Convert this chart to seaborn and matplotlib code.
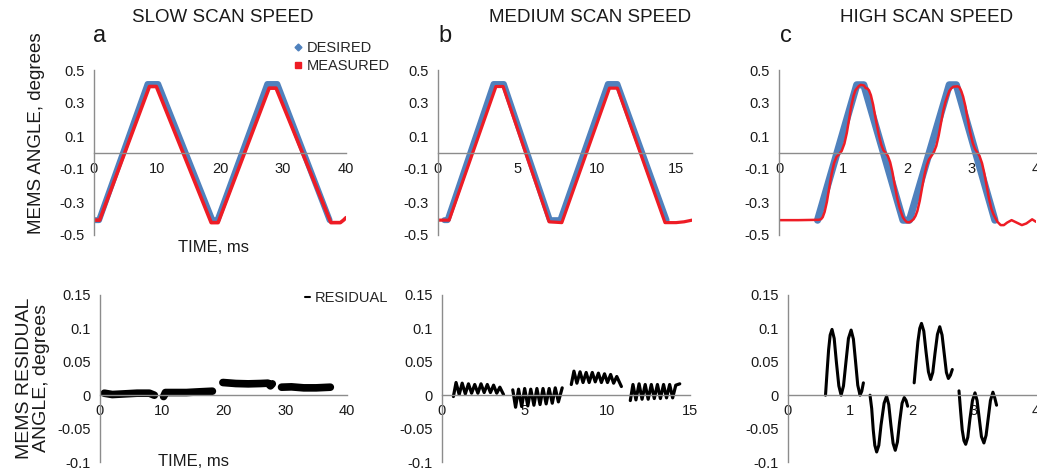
import matplotlib
matplotlib.use("Agg")
import matplotlib.pyplot as plt
from matplotlib.lines import Line2D
import seaborn as sns

# ---------------- data ----------------
# Panel a (slow)
des_a_t = [0, 0.8, 8.5, 10.2, 18.8, 19.6, 27.5, 29.1, 37.4]
des_a_y = [-0.41, -0.41, 0.415, 0.415, -0.41, -0.41, 0.415, 0.415, -0.41]
mea_a_t = [0, 0.9, 8.8, 9.9, 18.6, 19.7, 27.8, 28.9, 37.6, 39.1, 39.6, 40]
mea_a_y = [-0.41, -0.41, 0.40, 0.40, -0.425, -0.425, 0.39, 0.39, -0.425, -0.425, -0.41, -0.395]

# Panel b (medium)
des_b_t = [0.4, 0.6, 3.5, 4.15, 7.05, 7.7, 10.7, 11.3, 14.4]
des_b_y = [-0.41, -0.41, 0.415, 0.415, -0.41, -0.41, 0.415, 0.415, -0.41]
mea_b_t = [0, 0.7, 3.65, 4.1, 7.0, 7.8, 10.8, 11.3, 14.3, 15.0, 15.5, 16]
mea_b_y = [-0.41, -0.41, 0.40, 0.40, -0.42, -0.425, 0.39, 0.39, -0.425, -0.425, -0.42, -0.41]

# Panel c (high)
des_c_t = [0.6, 1.21, 1.32, 1.93, 2.03, 2.65, 2.76, 3.36]
des_c_y = [-0.41, 0.41, 0.41, -0.41, -0.41, 0.41, 0.41, -0.41]
mea_c_t = [0, 0.3, 0.605, 0.63, 0.655, 0.68, 0.71, 0.745, 0.78, 0.82, 0.857, 0.895,
           0.935, 0.975, 1.018, 1.055, 1.09, 1.125, 1.162, 1.19, 1.216, 1.24, 1.27,
           1.30, 1.323, 1.35, 1.375, 1.40, 1.43, 1.465, 1.50, 1.55, 1.59, 1.625, 1.66,
           1.695, 1.73, 1.765, 1.80, 1.84, 1.875, 1.905, 1.93, 1.96, 1.99, 2.02, 2.035,
           2.065, 2.095, 2.125, 2.153, 2.19, 2.225, 2.265, 2.30, 2.335, 2.37, 2.41,
           2.448, 2.485, 2.52, 2.555, 2.587, 2.62, 2.65, 2.68, 2.71, 2.74, 2.758,
           2.785, 2.81, 2.838, 2.866, 2.90, 2.935, 2.975, 3.016, 3.05, 3.085, 3.12,
           3.16, 3.195, 3.23, 3.265, 3.305, 3.335, 3.364, 3.40, 3.45, 3.50, 3.55,
           3.62, 3.70, 3.78, 3.85, 3.94, 4.0]
mea_c_y = [-0.41, -0.41, -0.408, -0.407, -0.404, -0.392, -0.36, -0.30, -0.218, -0.128,
           -0.065, -0.027, -0.01, 0.009, 0.054, 0.118, 0.199, 0.281, 0.345, 0.377, 0.39,
           0.402, 0.41, 0.408, 0.406, 0.39, 0.388, 0.377, 0.347, 0.29, 0.213, 0.113,
           0.049, 0.014, -0.002, -0.022, -0.059, -0.118, -0.195, -0.277, -0.333, -0.368,
           -0.394, -0.41, -0.422, -0.423, -0.422, -0.414, -0.404, -0.384, -0.355, -0.294,
           -0.218, -0.134, -0.077, -0.041, -0.022, 0.002, 0.04, 0.102, 0.176, 0.25, 0.302,
           0.34, 0.372, 0.388, 0.398, 0.40, 0.40, 0.401, 0.394, 0.371, 0.338, 0.282,
           0.206, 0.124, 0.057, 0.022, 0.001, -0.02, -0.065, -0.125, -0.198, -0.272,
           -0.34, -0.372, -0.395, -0.42, -0.44, -0.44, -0.425, -0.41, -0.425, -0.44,
           -0.43, -0.405, -0.42]

# Residuals, panel a
res_a = [
    ([0.7, 2, 4, 6, 8, 8.8], [0.003, 0.001, 0.002, 0.003, 0.003, 0.0]),
    ([10.3, 10.6, 12, 14, 16, 18.2], [-0.002, 0.004, 0.004, 0.004, 0.005, 0.006]),
    ([19.9, 22, 24, 26, 27.2, 27.6, 27.9], [0.019, 0.0175, 0.017, 0.0175, 0.018, 0.014, 0.017]),
    ([29.4, 31, 33, 35, 37.3], [0.012, 0.0125, 0.011, 0.011, 0.012]),
]
# Residuals, panel b
res_b = [
    ([0.69, 0.85, 1.04, 1.22, 1.41, 1.60, 1.79, 1.98, 2.17, 2.36, 2.55, 2.74, 2.93, 3.12, 3.31, 3.50, 3.72],
     [-0.002, 0.019, 0.001, 0.018, 0.002, 0.017, 0.003, 0.016, 0.003, 0.017, 0.004, 0.016, 0.004, 0.015, 0.003, 0.012, 0.001]),
    ([4.28, 4.45, 4.63, 4.82, 5.00, 5.19, 5.37, 5.56, 5.74, 5.93, 6.11, 6.30, 6.48, 6.67, 6.85, 7.04, 7.27],
     [0.008, -0.018, 0.009, -0.017, 0.010, -0.016, 0.009, -0.015, 0.010, -0.014, 0.010, -0.013, 0.010, -0.012, 0.011, -0.010, 0.011]),
    ([7.82, 7.98, 8.16, 8.35, 8.53, 8.72, 8.90, 9.09, 9.27, 9.46, 9.64, 9.83, 10.01, 10.20, 10.38, 10.57, 10.85],
     [0.016, 0.036, 0.018, 0.035, 0.019, 0.034, 0.019, 0.034, 0.020, 0.033, 0.019, 0.032, 0.019, 0.031, 0.018, 0.028, 0.013]),
    ([11.39, 11.55, 11.73, 11.92, 12.10, 12.29, 12.47, 12.66, 12.84, 13.03, 13.21, 13.40, 13.58, 13.77, 13.95, 14.14, 14.38],
     [-0.008, 0.016, -0.007, 0.017, -0.006, 0.016, -0.006, 0.016, -0.005, 0.016, -0.005, 0.016, -0.004, 0.016, -0.004, 0.015, 0.017]),
]
# Residuals, panel c
res_c = [
    ([0.605, 0.63, 0.655, 0.68, 0.71, 0.745, 0.78, 0.82, 0.857, 0.895, 0.935, 0.975, 1.018, 1.055, 1.09, 1.125, 1.162, 1.19, 1.216],
     [0.0, 0.035, 0.068, 0.09, 0.0985, 0.085, 0.05, 0.014, 0.0, 0.014, 0.05, 0.085, 0.0975, 0.084, 0.05, 0.015, 0.0, 0.006, 0.0185]),
    ([1.323, 1.35, 1.375, 1.40, 1.43, 1.465, 1.50, 1.55, 1.59, 1.625, 1.66, 1.695, 1.73, 1.765, 1.80, 1.84, 1.875, 1.905, 1.93],
     [0.0, -0.02, -0.052, -0.075, -0.085, -0.075, -0.045, -0.012, -0.0015, -0.014, -0.045, -0.072, -0.0825, -0.07, -0.04, -0.012, -0.0035, -0.008, -0.0165]),
    ([2.035, 2.065, 2.095, 2.125, 2.153, 2.19, 2.225, 2.265, 2.30, 2.335, 2.37, 2.41, 2.448, 2.485, 2.52, 2.555, 2.587, 2.62, 2.65],
     [0.0185, 0.05, 0.08, 0.1, 0.1075, 0.096, 0.066, 0.035, 0.0235, 0.034, 0.062, 0.091, 0.1025, 0.09, 0.062, 0.034, 0.025, 0.03, 0.0385]),
    ([2.758, 2.785, 2.81, 2.838, 2.866, 2.9, 2.935, 2.975, 3.016, 3.05, 3.085, 3.12, 3.16, 3.195, 3.23, 3.265, 3.305, 3.335, 3.364],
     [0.0065, -0.025, -0.052, -0.068, -0.0735, -0.063, -0.035, -0.008, 0.0035, -0.008, -0.035, -0.062, -0.0715, -0.06, -0.034, -0.008, 0.0045, -0.004, -0.015]),
]

titles = ["SLOW SCAN SPEED", "MEDIUM SCAN SPEED", "HIGH SCAN SPEED"]
letters = ["a", "b", "c"]
top_yticks = [0.5, 0.3, 0.1, -0.1, -0.3, -0.5]
bot_yticks = [0.15, 0.1, 0.05, 0, -0.05, -0.1]
top_xticks = [[0, 10, 20, 30, 40], [0, 5, 10, 15], [0, 1, 2, 3, 4]]
bot_xticks = [[0, 10, 20, 30, 40], [0, 5, 10, 15], [0, 1, 2, 3, 4]]
top_xlims = [(0, 40), (0, 16), (0, 4)]
bot_xlims = [(0, 40), (0, 15), (0, 4)]

# ---------------- style ----------------
sns.set_theme(style="white")
plt.rcParams["font.family"] = ["Liberation Sans", "DejaVu Sans"]
plt.rcParams["axes.unicode_minus"] = False

BLUE = "#4F81BD"
RED = "#EE1C25"
GRAY = "#8C8C8C"
TXT = "#1A1A1A"

W, H = 1037, 470
fig = plt.figure(figsize=(W / 100, H / 100), dpi=100)


def px_axes(left, right, top, bottom):
    return fig.add_axes([left / W, 1 - bottom / H, (right - left) / W, (bottom - top) / H])


def style(ax, xlim, xticks, ylim, yticks):
    ax.set_xlim(*xlim)
    ax.set_ylim(*ylim)
    ax.set_xticks(xticks)
    ax.set_yticks(yticks)
    ax.set_yticklabels([f"{v:g}" for v in yticks])
    ax.set_xticklabels([f"{v:g}" for v in xticks])
    for s in ["top", "right"]:
        ax.spines[s].set_visible(False)
    ax.spines["bottom"].set_position(("data", 0))
    for s in ["left", "bottom"]:
        ax.spines[s].set_color(GRAY)
        ax.spines[s].set_linewidth(1.0)
    ax.tick_params(axis="both", colors=GRAY, labelcolor=TXT, labelsize=10.5,
                   length=4, width=1.0, direction="out", pad=2.5)
    ax.set_xlabel("")
    ax.set_ylabel("")
    ax.patch.set_alpha(0)


top_boxes = [(94, 346), (438, 692), (779, 1036)]
bot_boxes = [(100, 347), (442, 690), (788, 1036)]

des_t = [des_a_t, des_b_t, des_c_t]
des_y = [des_a_y, des_b_y, des_c_y]
mea_t = [mea_a_t, mea_b_t, mea_c_t]
mea_y = [mea_a_y, mea_b_y, mea_c_y]
des_lw = [4.3, 4.3, 5.2]
mea_lw = [2.6, 2.3, 1.8]

for i in range(3):
    ax = px_axes(top_boxes[i][0], top_boxes[i][1], 70, 235)
    sns.lineplot(x=des_t[i], y=des_y[i], ax=ax, color=BLUE, lw=des_lw[i],
                 estimator=None, sort=False)
    sns.lineplot(x=mea_t[i], y=mea_y[i], ax=ax, color=RED, lw=mea_lw[i],
                 estimator=None, sort=False)
    style(ax, top_xlims[i], top_xticks[i], (-0.5, 0.5), top_yticks)

res_all = [res_a, res_b, res_c]
res_lw = [5.5, 2.3, 2.2]
for i in range(3):
    ax = px_axes(bot_boxes[i][0], bot_boxes[i][1], 295, 462)
    for t, y in res_all[i]:
        sns.lineplot(x=t, y=y, ax=ax, color="black", lw=res_lw[i],
                     estimator=None, sort=False)
    style(ax, bot_xlims[i], bot_xticks[i], (-0.1, 0.15), bot_yticks)


def ftext(x, y, s, **kw):
    fig.text(x / W, 1 - y / H, s, color=TXT, **kw)


title_x = [223, 590, 927]
letter_x = [100, 445, 786]
for i in range(3):
    ftext(title_x[i], 18, titles[i], ha="center", va="center", fontsize=13.5)
    ftext(letter_x[i], 42, letters[i], ha="center", va="baseline", fontsize=17)

ftext(37, 133, "MEMS ANGLE, degrees", ha="center", va="center", rotation=90, fontsize=13.5)
ftext(33, 378, "MEMS RESIDUAL\nANGLE, degrees", ha="center", va="center",
      rotation=90, fontsize=14, linespacing=1.0, multialignment="center")
ftext(213, 248, "TIME, ms", ha="center", va="center", fontsize=12)
ftext(193, 461, "TIME, ms", ha="center", va="center", fontsize=12)

h1 = [Line2D([], [], color=BLUE, marker="D", ls="none", markersize=3.5),
      Line2D([], [], color=RED, marker="s", ls="none", markersize=4)]
fig.legend(h1, ["DESIRED", "MEASURED"], loc="upper left",
           bbox_to_anchor=(294 / W, 1 - 41 / H), frameon=False, fontsize=10.5,
           handlelength=0.6, handletextpad=0.25, labelspacing=0.25, borderpad=0,
           borderaxespad=0)
h2 = [Line2D([], [], color="black", lw=1.5)]
fig.legend(h2, ["RESIDUAL"], loc="upper left",
           bbox_to_anchor=(305 / W, 1 - 291 / H), frameon=False, fontsize=10.5,
           handlelength=0.35, handletextpad=0.3, borderpad=0, borderaxespad=0)

fig.savefig("out.png", dpi=100)
